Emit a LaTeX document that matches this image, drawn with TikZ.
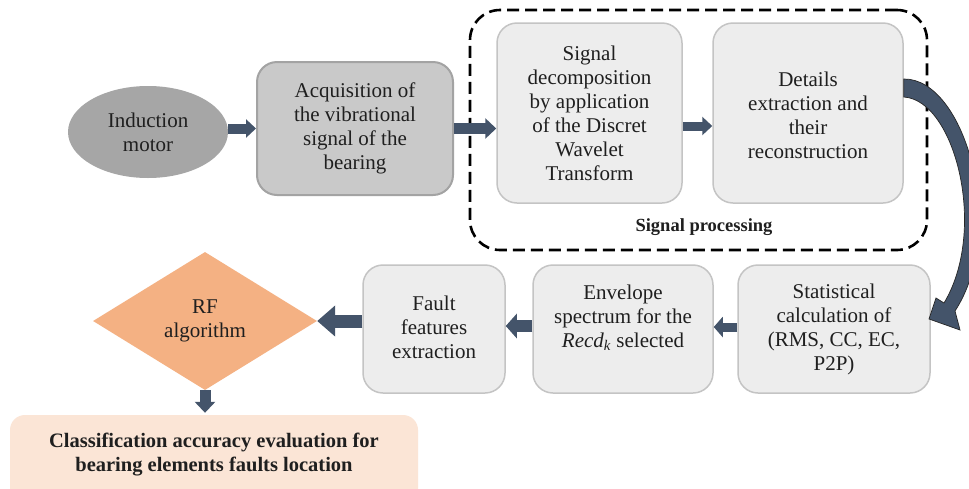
\documentclass[tikz,border=0pt]{standalone}
\usepackage{fontspec}
\setmainfont{Liberation Serif}
\usetikzlibrary{shapes.geometric,arrows.meta}
\definecolor{arrowfill}{HTML}{44546A}
\definecolor{textcol}{HTML}{1F1F1F}
\definecolor{boxfill}{HTML}{EDEDED}
\definecolor{boxline}{HTML}{C4C4C4}
\definecolor{acqfill}{HTML}{C9C9C9}
\definecolor{acqline}{HTML}{A3A3A3}
\definecolor{motorfill}{HTML}{A6A6A6}
\definecolor{rffill}{HTML}{F4B183}
\definecolor{resfill}{HTML}{FBE5D6}
\begin{document}
\begin{tikzpicture}[x=1pt,y=-1pt,
  txt/.style={font=\fontsize{21}{24}\selectfont, text=textcol, align=center, inner sep=0pt},
  boldtxt/.style={txt, font=\fontsize{20.5}{24}\selectfont\bfseries},
  lightbox/.style={draw=boxline, line width=1.5pt, fill=boxfill, rounded corners=20pt, inner sep=0pt},
  darkbox/.style={draw=acqline, line width=2pt, fill=acqfill, rounded corners=20pt, inner sep=0pt},
  flow/.style n args={3}{arrowfill, line width=#1, -{Triangle[width=#2, length=#3]}},
]
\clip (0,0) rectangle (969,488);
\fill[white] (0,0) rectangle (969,488);

% signal processing group
\node[draw=black, line width=2.6pt, dash pattern=on 12pt off 6pt, rounded corners=30pt,
      minimum width=457pt, minimum height=240pt, inner sep=0pt] (group) at (698.5,130) {};
\node[font=\fontsize{18.5}{22}\selectfont\bfseries, text=textcol, inner sep=0pt] (grouplabel) at (704,227) {Signal processing};

% top row
\node[ellipse, fill=motorfill, minimum width=160pt, minimum height=92pt, inner sep=0pt] (motor) at (148,132) {};
\node[txt] (motortxt) at (motor.center) {Induction\\motor};

\node[darkbox, minimum width=196pt, minimum height=133pt] (acq) at (355,128.5) {};
\node[txt] (acqtxt) at (acq.center) {Acquisition of\\the vibrational\\signal of the\\bearing};

\node[lightbox, minimum width=185pt, minimum height=180pt] (dwt) at (589.5,113) {};
\node[txt] (dwttxt) at (dwt.center) {Signal\\decomposition\\by application\\of the Discret\\Wavelet\\Transform};

\node[lightbox, minimum width=190pt, minimum height=180pt] (det) at (808,113) {};
\node[txt] (dettxt) at ([yshift=-2pt]det.center) {Details\\extraction and\\their\\reconstruction};

% bottom row
\node[lightbox, minimum width=192pt, minimum height=128pt] (stat) at (834,329) {};
\node[txt] (stattxt) at (stat.center) {Statistical\\calculation of\\(RMS, CC, EC,\\P2P)};

\node[lightbox, minimum width=180pt, minimum height=128pt] (env) at (623,329) {};
\node[txt] (envtxt) at ([yshift=11pt]env.center) {Envelope\\spectrum for the\\\textit{Recd}\textsubscript{\textit{k}} selected};

\node[lightbox, minimum width=142pt, minimum height=128pt] (fault) at (434,329) {};
\node[txt] (faulttxt) at ([yshift=2pt]fault.center) {Fault\\features\\extraction};

\node[diamond, fill=rffill, minimum width=224pt, minimum height=138pt, inner sep=0pt] (rf) at (205,321) {};
\node[txt] (rftxt) at (rf.center) {RF\\algorithm};

\node[fill=resfill, rounded corners=15pt, minimum width=408pt, minimum height=100pt, inner sep=0pt] (result) at (214,465) {};
\node[boldtxt] (resulttxt) at (214,455) {Classification accuracy evaluation for\\bearing elements faults location};

% connectors
\draw[flow={10pt}{18pt}{10pt}] (motor.east |- acq.west) -- (acq.west);
\draw[flow={11pt}{20pt}{11pt}] (acq.east) -- (acq.east -| dwt.west);
\draw[flow={9pt}{18pt}{10pt}] ([yshift=-13pt]dwt.east) -- ([yshift=-13pt]det.west);
\draw[flow={9pt}{20pt}{9pt}] ([yshift=2pt]stat.west) -- ([yshift=2pt]env.east);
\draw[flow={12pt}{24pt}{11pt}] ([yshift=3pt]env.east -| env.west) -- ([yshift=3pt]fault.east);
\draw[flow={13pt}{30pt}{18pt}] (fault.west |- rf.east) -- (rf.east);
\draw[flow={11pt}{20pt}{11pt}] (rf.south) -- ([yshift=2pt]rf.south |- result.north);

% curved transfer arrow from the top row to the bottom row
\filldraw[fill=arrowfill, draw=black!85, line width=0.7pt]
  (det.east |- 0,79) .. controls (965,78) and (1008,230) .. (955,311)
  -- (960,330) -- (929,319) -- (936,298) -- (944,303)
  .. controls (988,230) and (955,100) .. (det.east |- 0,97) -- cycle;
\end{tikzpicture}
\end{document}
